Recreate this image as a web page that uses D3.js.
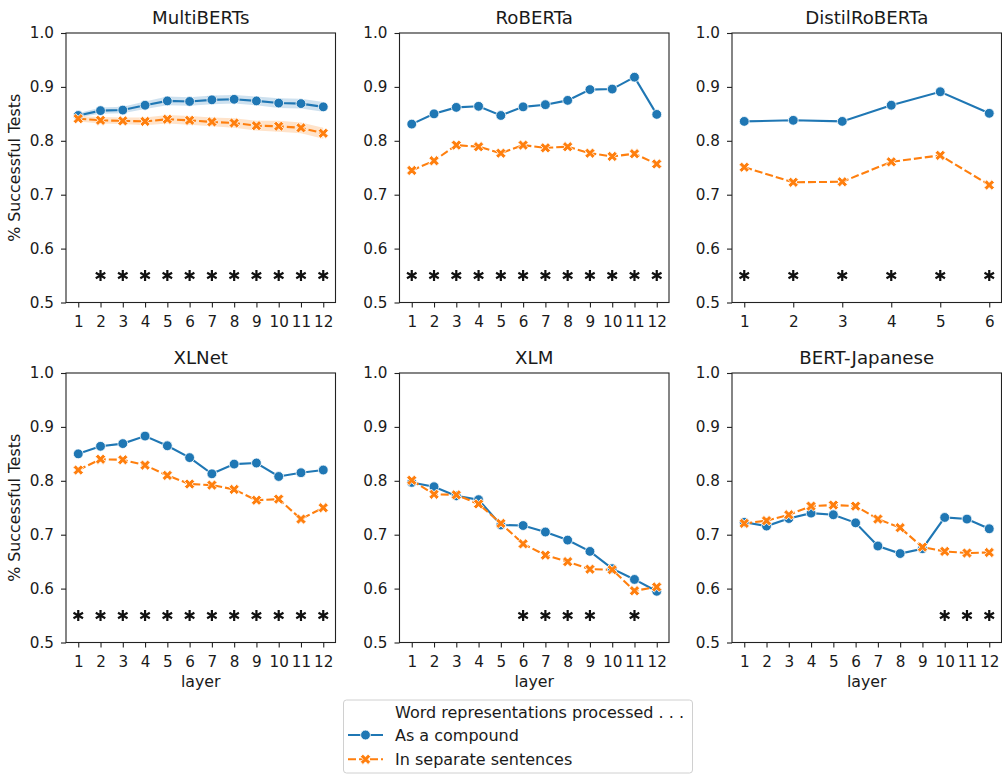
<!DOCTYPE html>
<html>
<head>
<meta charset="utf-8">
<script src="https://cdn.jsdelivr.net/npm/d3@7"></script>
<style>
  body { margin: 0; background: #fff; }
  text { font-family: 'DejaVu Sans', sans-serif; fill: #1a1a1a; }
</style>
</head>
<body>
<svg id="chart" width="1002" height="776"></svg>
<script>
// values
var titles = ['MultiBERTs', 'RoBERTa', 'DistilRoBERTa', 'XLNet', 'XLM', 'BERT-Japanese']
var yTicks = [0.5, 0.6, 0.7, 0.8, 0.9, 1.0]
var layers12 = [1, 2, 3, 4, 5, 6, 7, 8, 9, 10, 11, 12]
var layers6 = [1, 2, 3, 4, 5, 6]

var multiCompound = [0.847, 0.856, 0.857, 0.866, 0.874, 0.873, 0.876, 0.877, 0.874, 0.870, 0.869, 0.863]
var multiSeparate = [0.841, 0.838, 0.837, 0.836, 0.840, 0.838, 0.835, 0.833, 0.828, 0.827, 0.824, 0.814]
var multiCompoundLo = [0.843, 0.850, 0.851, 0.859, 0.866, 0.865, 0.868, 0.869, 0.866, 0.861, 0.860, 0.854]
var multiCompoundHi = [0.851, 0.862, 0.863, 0.873, 0.882, 0.881, 0.884, 0.885, 0.882, 0.879, 0.878, 0.872]
var multiSeparateLo = [0.836, 0.832, 0.831, 0.829, 0.832, 0.830, 0.827, 0.824, 0.819, 0.817, 0.814, 0.804]
var multiSeparateHi = [0.846, 0.844, 0.843, 0.843, 0.848, 0.846, 0.843, 0.842, 0.837, 0.837, 0.834, 0.824]

var robertaCompound = [0.831, 0.850, 0.862, 0.864, 0.847, 0.863, 0.867, 0.875, 0.895, 0.896, 0.918, 0.849]
var robertaSeparate = [0.745, 0.763, 0.792, 0.789, 0.777, 0.792, 0.787, 0.789, 0.777, 0.771, 0.776, 0.757]

var distilCompound = [0.836, 0.838, 0.836, 0.866, 0.891, 0.851]
var distilSeparate = [0.751, 0.723, 0.724, 0.761, 0.773, 0.718]

var xlnetCompound = [0.850, 0.864, 0.869, 0.883, 0.865, 0.843, 0.813, 0.831, 0.833, 0.808, 0.815, 0.820]
var xlnetSeparate = [0.820, 0.840, 0.839, 0.829, 0.810, 0.794, 0.792, 0.784, 0.764, 0.766, 0.729, 0.750]

var xlmCompound = [0.797, 0.789, 0.772, 0.765, 0.718, 0.717, 0.705, 0.690, 0.669, 0.637, 0.617, 0.595]
var xlmSeparate = [0.801, 0.775, 0.774, 0.757, 0.721, 0.683, 0.662, 0.650, 0.636, 0.635, 0.596, 0.603]

var japCompound = [0.723, 0.716, 0.730, 0.740, 0.737, 0.722, 0.679, 0.665, 0.674, 0.732, 0.729, 0.711]
var japSeparate = [0.721, 0.726, 0.737, 0.753, 0.755, 0.753, 0.729, 0.713, 0.677, 0.669, 0.666, 0.667]

// layers marked with a significance star
var multiStars = [2, 3, 4, 5, 6, 7, 8, 9, 10, 11, 12]
var robertaStars = [1, 2, 3, 4, 5, 6, 7, 8, 9, 10, 11, 12]
var distilStars = [1, 2, 3, 4, 5, 6]
var xlnetStars = [1, 2, 3, 4, 5, 6, 7, 8, 9, 10, 11, 12]
var xlmStars = [6, 7, 8, 9, 11]
var japStars = [10, 11, 12]
var starLevel = 0.55

var legendTitle = 'Word representations processed . . .'
var seriesNames = ['As a compound', 'In separate sentences']

var blue = '#1f77b4'
var orange = '#ff7f0e'

var panels = [
  { title: titles[0], layers: layers12, a: multiCompound, b: multiSeparate, stars: multiStars,
    band: { aLo: multiCompoundLo, aHi: multiCompoundHi, bLo: multiSeparateLo, bHi: multiSeparateHi } },
  { title: titles[1], layers: layers12, a: robertaCompound, b: robertaSeparate, stars: robertaStars },
  { title: titles[2], layers: layers6, a: distilCompound, b: distilSeparate, stars: distilStars },
  { title: titles[3], layers: layers12, a: xlnetCompound, b: xlnetSeparate, stars: xlnetStars },
  { title: titles[4], layers: layers12, a: xlmCompound, b: xlmSeparate, stars: xlmStars },
  { title: titles[5], layers: layers12, a: japCompound, b: japSeparate, stars: japStars }
]

var svg = d3.select('#chart')
svg.append('rect').attr('width', 1002).attr('height', 776).attr('fill', '#fff')

var lefts = [66, 399.5, 732]
var tops = [33, 373]
var w = 269.5
var h = 269.5

function starPath (r) {
  var p = ''
  for (var k = 0; k < 3; k++) {
    var a = Math.PI / 2 + k * Math.PI / 3
    var dx = r * Math.cos(a)
    var dy = r * Math.sin(a)
    p += 'M' + (-dx) + ',' + (-dy) + 'L' + dx + ',' + dy
  }
  return p
}

var xMarker = d3.symbol().type(d3.symbolCross).size(66)

panels.forEach(function (p, i) {
  var col = i % 3
  var row = Math.floor(i / 3)
  var g = svg.append('g')
    .attr('transform', 'translate(' + lefts[col] + ',' + tops[row] + ')')

  var n = p.layers.length
  var pad = 0.05 * (n - 1)
  var x = d3.scaleLinear().domain([1 - pad, n + pad]).range([0, w])
  var y = d3.scaleLinear().domain([0.5, 1.0]).range([h, 0])

  // axes
  var xAxis = g.append('g')
    .attr('transform', 'translate(0,' + h + ')')
    .call(d3.axisBottom(x).tickValues(p.layers).tickSize(5).tickSizeOuter(0).tickFormat(d3.format('d')))
  xAxis.selectAll('text').attr('dy', null).attr('y', 24.8).style('font-size', '15.2px')

  var yAxis = g.append('g')
    .call(d3.axisLeft(y).tickValues(yTicks).tickSize(5).tickSizeOuter(0).tickPadding(7).tickFormat(d3.format('.1f')))
  yAxis.selectAll('text').style('font-size', '15.2px')

  g.selectAll('.domain').remove()
  g.selectAll('.tick line').attr('stroke', '#222').attr('stroke-width', 1.1)

  // confidence bands
  if (p.band) {
    var area = function (lo, hi) {
      return d3.area()
        .x(function (d, j) { return x(p.layers[j]) })
        .y0(function (d, j) { return y(lo[j]) })
        .y1(function (d, j) { return y(hi[j]) })(lo)
    }
    g.append('path').attr('d', area(p.band.aLo, p.band.aHi)).attr('fill', blue).attr('fill-opacity', 0.22)
    g.append('path').attr('d', area(p.band.bLo, p.band.bHi)).attr('fill', orange).attr('fill-opacity', 0.22)
  }

  var line = d3.line()
    .x(function (d, j) { return x(p.layers[j]) })
    .y(function (d) { return y(d) })

  g.append('path').attr('d', line(p.a)).attr('fill', 'none')
    .attr('stroke', blue).attr('stroke-width', 2.1)
  g.append('path').attr('d', line(p.b)).attr('fill', 'none')
    .attr('stroke', orange).attr('stroke-width', 2.1).attr('stroke-dasharray', '8,3')

  g.selectAll('.dotA').data(p.a).enter().append('circle')
    .attr('cx', function (d, j) { return x(p.layers[j]) })
    .attr('cy', function (d) { return y(d) })
    .attr('r', 4.9)
    .attr('fill', blue).attr('stroke', '#fff').attr('stroke-width', 0.8)

  g.selectAll('.dotB').data(p.b).enter().append('path')
    .attr('d', xMarker)
    .attr('transform', function (d, j) { return 'translate(' + x(p.layers[j]) + ',' + y(d) + ') rotate(45)' })
    .attr('fill', orange).attr('stroke', '#fff').attr('stroke-width', 0.8)

  // significance stars
  g.selectAll('.star').data(p.stars).enter().append('path')
    .attr('d', starPath(5.5))
    .attr('transform', function (d) { return 'translate(' + x(d) + ',' + y(starLevel) + ')' })
    .attr('stroke', '#111').attr('stroke-width', 2.2).attr('fill', 'none')

  // frame
  g.append('rect').attr('width', w).attr('height', h)
    .attr('fill', 'none').attr('stroke', '#222').attr('stroke-width', 1.1)

  g.append('text')
    .attr('x', w / 2).attr('y', -9.5)
    .attr('text-anchor', 'middle')
    .style('font-size', '18.2px')
    .text(p.title)

  if (col === 0) {
    g.append('text')
      .attr('transform', 'translate(' + (19.8 - lefts[0]) + ',' + (h / 2) + ') rotate(-90)')
      .attr('text-anchor', 'middle')
      .style('font-size', '15.8px')
      .text('% Successful Tests')
  }
  if (row === 1) {
    g.append('text')
      .attr('x', w / 2).attr('y', h + 44.5)
      .attr('text-anchor', 'middle')
      .style('font-size', '15.8px')
      .text('layer')
  }
})

// legend
var lg = svg.append('g')
lg.append('rect')
  .attr('x', 343.5).attr('y', 700).attr('width', 349).attr('height', 73)
  .attr('rx', 3).attr('fill', '#fff').attr('stroke', '#d0d0d0').attr('stroke-width', 1)
lg.append('text').attr('x', 395).attr('y', 718.3).style('font-size', '16px').text(legendTitle)

var legendRows = [
  { name: seriesNames[0], color: blue, dash: null, cy: 735 },
  { name: seriesNames[1], color: orange, dash: '8,3', cy: 759.3 }
]
legendRows.forEach(function (r, k) {
  lg.append('line')
    .attr('x1', 348).attr('x2', 383).attr('y1', r.cy).attr('y2', r.cy)
    .attr('stroke', r.color).attr('stroke-width', 2.1)
    .attr('stroke-dasharray', r.dash)
  if (k === 0) {
    lg.append('circle').attr('cx', 365.5).attr('cy', r.cy).attr('r', 4.9)
      .attr('fill', blue).attr('stroke', '#fff').attr('stroke-width', 0.8)
  } else {
    lg.append('path').attr('d', xMarker)
      .attr('transform', 'translate(365.5,' + r.cy + ') rotate(45)')
      .attr('fill', orange).attr('stroke', '#fff').attr('stroke-width', 0.8)
  }
  lg.append('text').attr('x', 395).attr('y', r.cy + 6).style('font-size', '16px').text(r.name)
})
</script>
</body>
</html>
